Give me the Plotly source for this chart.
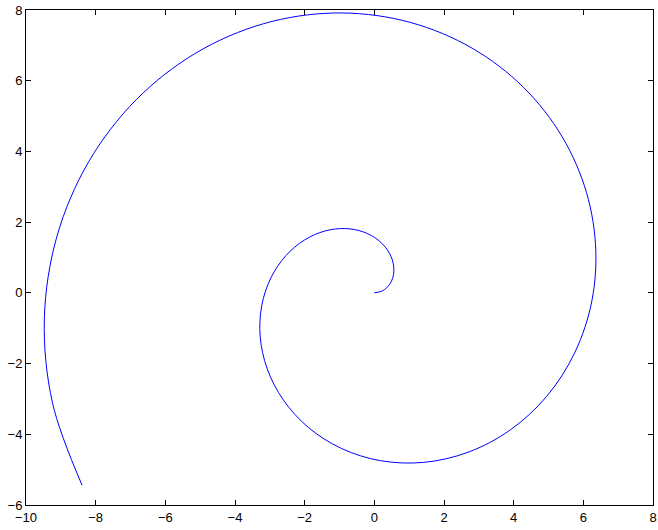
import plotly.graph_objects as go

# spiral points
x_vals = [0.0, 0.242, 0.439, 0.549, 0.540, 0.394, 0.106, -0.312, -0.832, -1.413,
          -2.003, -2.542, -2.970, -3.231, -3.278, -3.077, -2.615, -1.896, -0.949, 0.179,
          1.418, 2.689, 3.898, 4.952, 5.761, 6.249, 6.348, 6.028, 5.277, 4.117,
          2.599, 0.800, -1.164, -3.183, -5.117, -6.832, -8.200, -9.109, -9.473, -9.239,
          -8.391]
y_vals = [0.0, 0.062, 0.240, 0.511, 0.842, 1.186, 1.496, 1.722, 1.819, 1.751,
          1.496, 1.050, 0.423, -0.352, -1.228, -2.144, -3.027, -3.804, -4.399, -4.747,
          -4.795, -4.509, -3.880, -2.923, -1.677, -0.207, 1.398, 3.038, 4.599, 5.968,
          7.035, 7.708, 7.915, 7.612, 6.787, 5.467, 3.709, 1.609, -0.714, -3.115,
          -5.440]

x_ticks = [-10, -8, -6, -4, -2, 0, 2, 4, 6, 8]
y_ticks = [-6, -4, -2, 0, 2, 4, 6, 8]

_AXIS = dict(
    showgrid=False, zeroline=False, showline=True, linecolor="black", linewidth=1,
    mirror="ticks", ticks="inside", ticklen=5, tickcolor="black",
    ticklabeloverflow="allow", automargin=False,
    tickfont=dict(family="Liberation Sans, Arial, sans-serif", size=13, color="black"),
)

fig = go.Figure(go.Scatter(
    x=x_vals, y=y_vals, mode="lines",
    line=dict(color="#0000FF", width=1, shape="spline"),
))
fig.update_layout(
    width=658, height=530,
    plot_bgcolor="#fff", paper_bgcolor="#fff",
    margin=dict(l=26, r=5, t=10, b=25),
    showlegend=False,
    xaxis=dict(range=[-10, 8], tickvals=x_ticks, **_AXIS),
    yaxis=dict(range=[-6, 8], tickvals=y_ticks, ticklabelstandoff=0, **_AXIS),
)
# page body has a default 8px margin, drop it so the figure fills the window
fig.write_html("out.html", config={"displayModeBar": False},
               post_script="document.body.style.margin='0';")
